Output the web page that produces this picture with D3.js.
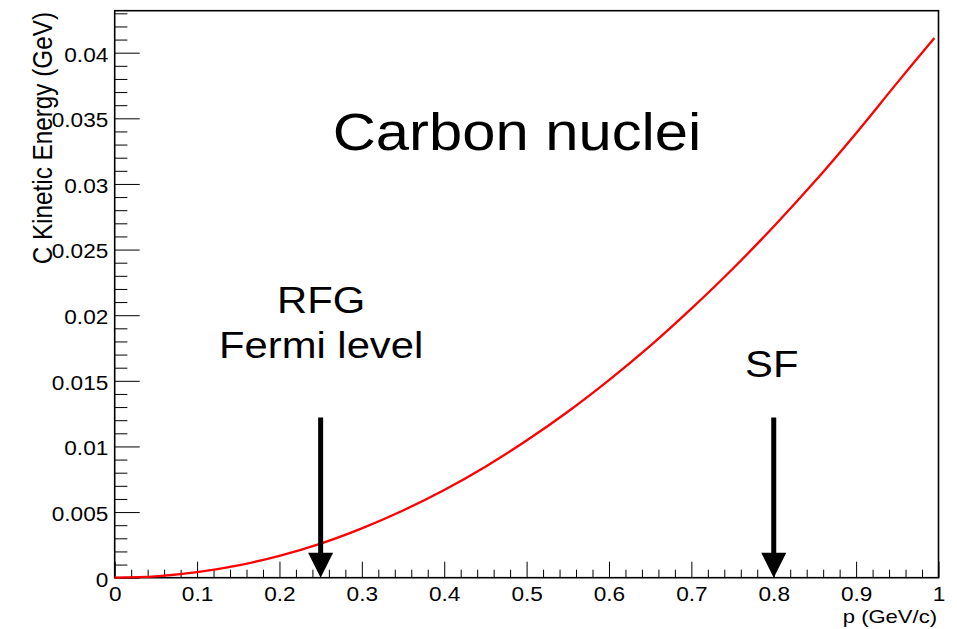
<!DOCTYPE html>
<html>
<head>
<meta charset="utf-8">
<script src="https://cdn.jsdelivr.net/npm/d3@7"></script>
<style>
  html, body { margin: 0; padding: 0; background: #fff; }
  svg { display: block; }
  text { font-family: "Liberation Sans", Arial, Helvetica, sans-serif; fill: #000; }
</style>
</head>
<body>
<svg id="chart" width="957" height="629"></svg>
<script>
// ---- data ----
const momentum = [0, 0.05, 0.1, 0.15, 0.2, 0.25, 0.3, 0.35, 0.4, 0.45, 0.5, 0.55, 0.6, 0.65, 0.7, 0.75, 0.8, 0.85, 0.9, 0.95, 0.995];
const kineticEnergy = [0, 0.0001, 0.00042, 0.00094, 0.00167, 0.0026, 0.00376, 0.00512, 0.00668, 0.00846, 0.01045, 0.01264, 0.01505, 0.01766, 0.0205, 0.02352, 0.02676, 0.0302, 0.03387, 0.03772, 0.04112];
const xTickValues = [0, 0.1, 0.2, 0.3, 0.4, 0.5, 0.6, 0.7, 0.8, 0.9, 1];
const xTickLabels = ["0", "0.1", "0.2", "0.3", "0.4", "0.5", "0.6", "0.7", "0.8", "0.9", "1"];
const yTickValues = [0, 0.005, 0.01, 0.015, 0.02, 0.025, 0.03, 0.035, 0.04];
const yTickLabels = ["0", "0.005", "0.01", "0.015", "0.02", "0.025", "0.03", "0.035", "0.04"];
const arrowMomenta = [0.25, 0.8];
const arrowTopValue = 0.0122;
const arrowTipValue = 0;
const titleText = "Carbon nuclei";
const xAxisTitle = "p (GeV/c)";
const yAxisTitle = "C Kinetic Energy (GeV)";
const rfgLines = ["RFG", "Fermi level"];
const sfLabel = "SF";

// ---- layout ----
const SX = 1.16; // horizontal stretch of glyphs in the reference
const svg = d3.select("#chart");
const x = d3.scaleLinear().domain([0, 1]).range([114.7, 938.5]);
const y = d3.scaleLinear().domain([0, 0.0432]).range([577.7, 10.7]);

const xMinor = d3.range(0, 50 + 1).map(i => i * 0.02).filter(v => !xTickValues.some(t => Math.abs(t - v) < 1e-9));
const yMinor = d3.range(0, 44).map(i => i * 0.001).filter(v => v <= 0.0432 && !yTickValues.some(t => Math.abs(t - v) < 1e-9));

// x axis major
const gx = svg.append("g").attr("transform", `translate(0,${y(0)})`)
  .call(d3.axisBottom(x).tickValues(xTickValues).tickSize(-16).tickFormat((d, i) => xTickLabels[i]));
gx.select(".domain").remove();
gx.selectAll(".tick line").attr("stroke", "#000").attr("stroke-width", 1);
gx.selectAll(".tick text")
  .attr("y", null).attr("dy", null)
  .attr("transform", `translate(0,23.5) scale(${SX},1)`)
  .attr("text-anchor", "middle")
  .style("font-size", "19.5px").attr("fill", "#000");

// x axis minor
const gxm = svg.append("g").attr("transform", `translate(0,${y(0)})`)
  .call(d3.axisBottom(x).tickValues(xMinor).tickSize(-8).tickFormat(""));
gxm.select(".domain").remove();
gxm.selectAll(".tick line").attr("stroke", "#000").attr("stroke-width", 1);

// y axis major
const gy = svg.append("g").attr("transform", `translate(${x(0)},0)`)
  .call(d3.axisLeft(y).tickValues(yTickValues).tickSize(-25).tickFormat((d, i) => yTickLabels[i]));
gy.select(".domain").remove();
gy.selectAll(".tick line").attr("stroke", "#000").attr("stroke-width", 1);
gy.selectAll(".tick text")
  .attr("x", null).attr("dy", null)
  .attr("transform", `translate(-6.4,8.3) scale(${SX},1)`)
  .attr("text-anchor", "end")
  .style("font-size", "19.5px").attr("fill", "#000");

// y axis minor
const gym = svg.append("g").attr("transform", `translate(${x(0)},0)`)
  .call(d3.axisLeft(y).tickValues(yMinor).tickSize(-12.7).tickFormat(""));
gym.select(".domain").remove();
gym.selectAll(".tick line").attr("stroke", "#000").attr("stroke-width", 1);

// frame
svg.append("rect")
  .attr("x", x(0)).attr("y", y(0.0432))
  .attr("width", x(1) - x(0)).attr("height", y(0) - y(0.0432))
  .attr("fill", "none").attr("stroke", "#000").attr("stroke-width", 1.6);

// curve
const pts = momentum.map((p, i) => [p, kineticEnergy[i]]);
svg.append("path")
  .datum(pts)
  .attr("fill", "none")
  .attr("stroke", "#ff0000")
  .attr("stroke-width", 2.3)
  .attr("d", d3.line().x(d => x(d[0])).y(d => y(d[1])).curve(d3.curveCatmullRom));

// arrows
const headLen = 25, headHalf = 12.5;
arrowMomenta.forEach(p => {
  const ax = x(p), top = y(arrowTopValue), tip = y(arrowTipValue);
  svg.append("line")
    .attr("x1", ax).attr("x2", ax)
    .attr("y1", top).attr("y2", tip - headLen + 1)
    .attr("stroke", "#000").attr("stroke-width", 5);
  svg.append("path")
    .attr("d", `M${ax - headHalf},${tip - headLen} L${ax + headHalf},${tip - headLen} L${ax},${tip} Z`)
    .attr("fill", "#000");
});

// texts
function stext(px, py, str, size, anchor, extra) {
  return svg.append("text")
    .attr("transform", `translate(${px},${py}) scale(${SX},1)` + (extra || ""))
    .attr("text-anchor", anchor)
    .style("font-size", size + "px")
    .text(str);
}
stext(517, 150, titleText, 51.5, "middle");
stext(x(arrowMomenta[0]) + 0.5, 312.7, rfgLines[0], 36, "middle");
stext(x(arrowMomenta[0]) + 0.5, 358, rfgLines[1], 36, "middle");
stext(x(arrowMomenta[1]) - 2, 377.3, sfLabel, 36, "middle");
stext(937, 623, xAxisTitle, 19, "end");
stext(52, 12, yAxisTitle, 24.3, "end", " rotate(-90)");
</script>
</body>
</html>
